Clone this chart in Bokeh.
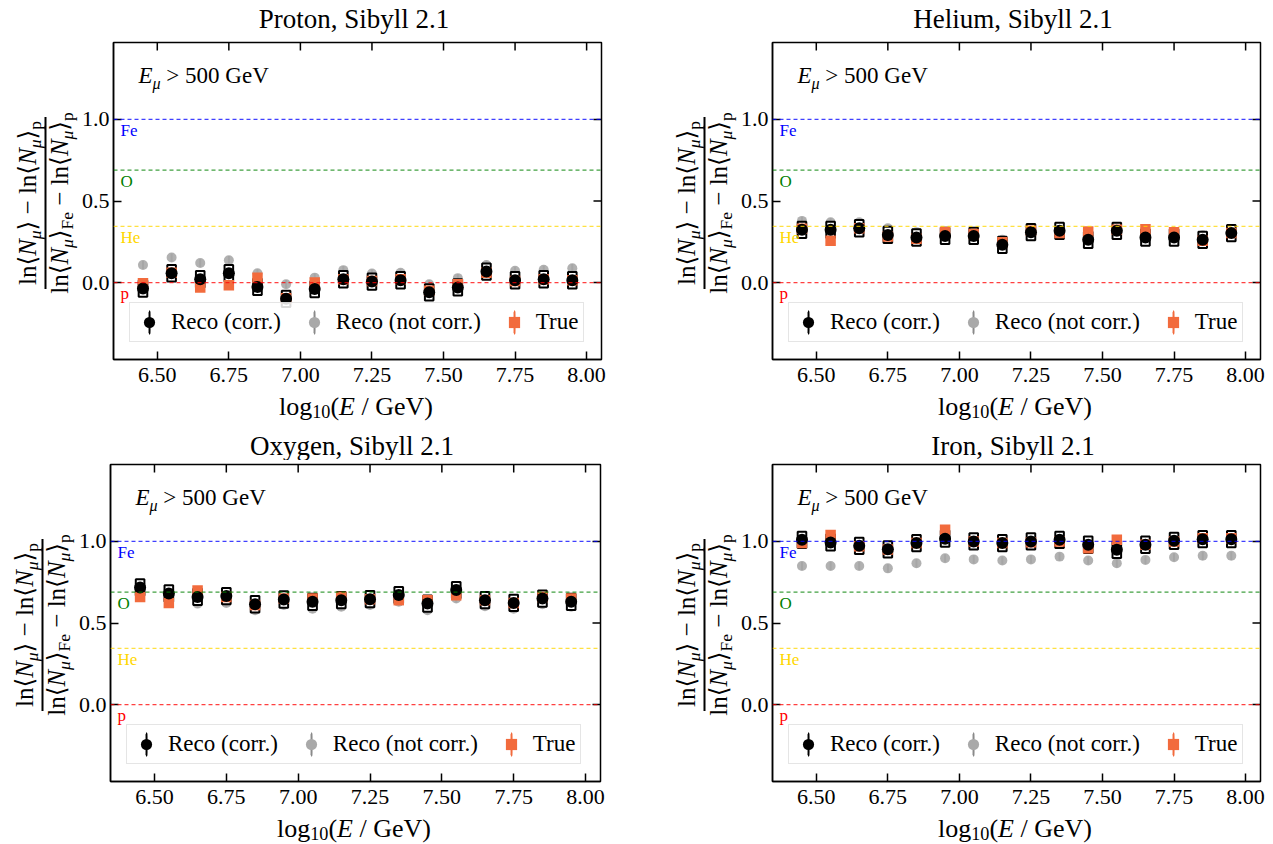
import math
import numpy as np
from bokeh.plotting import figure
from bokeh.layouts import column, row
from bokeh.models import (Range1d, FixedTicker, PrintfTickFormatter, Label, Span,
                          Legend, LegendItem, Arrow, ColumnDataSource)
from bokeh.core.properties import value
from bokeh.embed import file_html
from bokeh.resources import INLINE

# ---------------------------------------------------------------- data
log10_energy = [6.45, 6.55, 6.65, 6.75, 6.85, 6.95, 7.05, 7.15,
                7.25, 7.35, 7.45, 7.55, 7.65, 7.75, 7.85, 7.95]

proton_reco_corr = [-0.037, 0.057, 0.020, 0.057, -0.027, -0.100, -0.040, 0.020,
                    0.006, 0.014, -0.060, -0.030, 0.067, 0.014, 0.020, 0.014]
proton_reco_raw = [0.108, 0.153, 0.120, 0.137, 0.057, -0.010, 0.030, 0.076,
                   0.055, 0.060, -0.010, 0.027, 0.108, 0.072, 0.078, 0.088]
proton_true = [-0.005, 0.060, -0.030, -0.016, 0.029, -0.096, 0.000, 0.020,
               0.010, 0.020, -0.050, -0.010, 0.060, 0.010, 0.020, 0.014]

helium_reco_corr = [0.323, 0.323, 0.333, 0.292, 0.276, 0.286, 0.286, 0.231,
                    0.309, 0.317, 0.262, 0.317, 0.276, 0.276, 0.262, 0.303]
helium_reco_raw = [0.378, 0.370, 0.370, 0.333, 0.309, 0.309, 0.303, 0.262,
                   0.320, 0.328, 0.290, 0.325, 0.303, 0.303, 0.290, 0.323]
helium_true = [0.330, 0.256, 0.333, 0.282, 0.268, 0.310, 0.297, 0.247,
               0.317, 0.303, 0.313, 0.323, 0.327, 0.309, 0.256, 0.303]

oxygen_reco_corr = [0.718, 0.681, 0.660, 0.665, 0.615, 0.644, 0.630, 0.640,
                    0.646, 0.671, 0.619, 0.702, 0.640, 0.623, 0.650, 0.630]
oxygen_reco_raw = [0.665, 0.640, 0.619, 0.623, 0.578, 0.610, 0.588, 0.600,
                   0.610, 0.630, 0.578, 0.650, 0.603, 0.588, 0.615, 0.600]
oxygen_true = [0.660, 0.623, 0.700, 0.660, 0.610, 0.650, 0.650, 0.660,
               0.646, 0.640, 0.640, 0.670, 0.640, 0.623, 0.660, 0.650]

iron_reco_corr = [1.010, 0.994, 0.973, 0.952, 0.990, 1.017, 1.000, 0.990,
                  1.000, 1.010, 0.980, 0.949, 0.980, 1.004, 1.014, 1.014]
iron_reco_raw = [0.850, 0.850, 0.850, 0.835, 0.866, 0.897, 0.890, 0.883,
                 0.890, 0.907, 0.883, 0.866, 0.887, 0.903, 0.912, 0.912]
iron_true = [0.990, 1.040, 0.970, 0.950, 0.990, 1.072, 1.000, 0.990,
             0.995, 1.000, 0.959, 1.010, 0.980, 1.000, 1.020, 1.020]

stat_err = [0.025] * 16      # statistical uncertainty per bin
sys_err = [0.05] * 16        # systematic band (box half-height) per bin

x_ticks = [6.50, 6.75, 7.00, 7.25, 7.50, 7.75, 8.00]
y_ticks = [0.0, 0.5, 1.0]

# reference compositions: ln A / ln 56
mass_numbers = {"p": 1, "He": 4, "O": 16, "Fe": 56}
ref_colors = {"p": "red", "He": "gold", "O": "green", "Fe": "blue"}

# ---------------------------------------------------------------- style
FONT = "Liberation Serif"
ORANGE = "#f26b3d"
GRAY = "#a9a9a9"
GRAY_BAR = "#8a8a8a"
X_MIN, X_MAX = 6.347, 8.052
Y_MIN, Y_MAX = -0.472, 1.472
NB = "\u00a0"
MID = 0.3375       # distance from baseline to the middle of the em box, in em

ROMAN = {"l": 278, "n": 500, "o": 500, "g": 500, "p": 500, "F": 556, "e": 444,
         "G": 722, "V": 722, "(": 333, ")": 333, "/": 278, NB: 250, "\u2212": 564,
         ">": 564, "0": 500, "1": 500, "5": 500}
ITALIC = {"N": 667, "E": 611, "\u03bc": 500}
BRACKET = 390


def piece_width(text, kind, fs):
    scale = 0.7 if kind.startswith("sub") else 1.0
    if kind == "br":
        return BRACKET * fs / 1000 * len(text)
    table = ITALIC if kind.endswith("it") else ROMAN
    return sum(table[c] for c in text) * fs * scale / 1000


def draw_run(p, pieces, fs, x0, y0, rotated=False, centered=True, drop_em=0.22):
    """Typeset roman / italic / subscript pieces; (x0, y0) lies on the baseline."""
    total = sum(piece_width(t, k, fs) for t, k in pieces)
    pos = -total / 2 if centered else 0.0
    for t, k in pieces:
        sub = k.startswith("sub")
        size = fs * 0.7 if sub else fs
        drop = drop_em * fs if sub else 0.0
        w = piece_width(t, k, fs)
        style = "italic" if k.endswith("it") else "normal"
        font = "DejaVu Sans" if k == "br" else FONT
        if rotated:
            x, y, ang, align = x0 + drop - MID * size, y0 + pos + w / 2, math.pi / 2, "center"
        else:
            x, y, ang, align = x0 + pos, y0 - drop + MID * size, 0.0, "left"
        p.add_layout(Label(x=x, y=y, x_units="screen", y_units="screen", text=t, angle=ang,
                           text_font=font, text_font_style=style,
                           text_font_size=f"{size:.1f}px", text_align=align,
                           text_baseline="middle", text_color="black"))
        pos += w


MINUS = NB + "\u2212" + NB
NUMERATOR = [("ln", "rm"), ("\u27e8", "br"), ("N", "it"), ("\u03bc", "subit"), ("\u27e9", "br"),
             (MINUS, "rm"), ("ln", "rm"), ("\u27e8", "br"), ("N", "it"), ("\u03bc", "subit"),
             ("\u27e9", "br"), ("p", "subrm")]
DENOMINATOR = [("ln", "rm"), ("\u27e8", "br"), ("N", "it"), ("\u03bc", "subit"), ("\u27e9", "br"),
               ("Fe", "subrm"), (MINUS, "rm"), ("ln", "rm"), ("\u27e8", "br"), ("N", "it"),
               ("\u03bc", "subit"), ("\u27e9", "br"), ("p", "subrm")]
XLABEL = [("log", "rm"), ("10", "subrm"), ("(", "rm"), ("E", "it"),
          (NB + "/" + NB + "GeV)", "rm")]
CUT = [("E", "it"), ("\u03bc", "subit"), (NB + ">" + NB + "500" + NB + "GeV", "rm")]

# panel geometry (pixels)
FH = 317           # frame height
LEFT = 32          # room for y tick labels
TOP = 4
BOTTOM = 32        # room for x tick labels


def blank(width, height):
    f = figure(width=width, height=height, x_range=Range1d(0, 1), y_range=Range1d(0, 1),
               output_backend="svg", toolbar_location=None, title=None,
               x_axis_type=None, y_axis_type=None, min_border=0)
    f.outline_line_color = None
    return f


def main_axes(corr, raw, true, width, fw):
    right = width - LEFT - fw
    p = figure(width=width, height=TOP + FH + BOTTOM, x_range=Range1d(X_MIN, X_MAX),
               y_range=Range1d(Y_MIN, Y_MAX), output_backend="svg", toolbar_location=None,
               title=None, min_border_left=LEFT, min_border_right=right,
               min_border_top=TOP, min_border_bottom=BOTTOM)
    p.grid.visible = False
    p.outline_line_color = "black"
    p.outline_line_width = 1.5

    for ax, ticks, fmt in ((p.xaxis[0], x_ticks, "%.2f"), (p.yaxis[0], y_ticks, "%.1f")):
        ax.ticker = FixedTicker(ticks=ticks)
        ax.formatter = PrintfTickFormatter(format=fmt)
        ax.major_tick_in = 8
        ax.major_tick_out = 0
        ax.minor_tick_in = 0
        ax.minor_tick_out = 0
        ax.major_tick_line_width = 1.5
        ax.axis_line_width = 1.5
        ax.major_label_text_font = FONT
        ax.major_label_text_font_size = "22px"
        ax.major_label_text_color = "black"
    p.xaxis[0].major_label_standoff = 8
    p.yaxis[0].major_label_standoff = 4

    # inward ticks along the top and right edges (half of each dash is clipped away)
    p.scatter(x=x_ticks, y=[Y_MAX] * len(x_ticks), marker="dash", angle=math.pi / 2, size=16,
              line_color="black", line_width=1.5)
    p.scatter(x=[X_MAX] * len(y_ticks), y=y_ticks, marker="dash", size=16,
              line_color="black", line_width=1.5)

    # reference composition lines
    for name, a in mass_numbers.items():
        level = math.log(a) / math.log(56)
        p.add_layout(Span(location=level, dimension="width", line_color=ref_colors[name],
                          line_alpha=0.75, line_dash="4 3", line_width=1.2))
        p.add_layout(Label(x=7, y=level, x_units="screen", y_units="data", y_offset=-11,
                           text=name, text_color=ref_colors[name], text_font=FONT,
                           text_font_size="17px", text_baseline="middle", text_align="left"))

    x = np.array(log10_energy)
    e = np.array(stat_err)
    s = np.array(sys_err)
    c, r, t = np.array(corr), np.array(raw), np.array(true)
    src = ColumnDataSource(dict(x=x, corr=c, raw=r, true=t,
                                corr_lo=c - e, corr_hi=c + e, raw_lo=r - e, raw_hi=r + e,
                                true_lo=t - e, true_hi=t + e, box_h=2 * s))

    # uncorrected reconstruction
    p.segment(x0="x", y0="raw_lo", x1="x", y1="raw_hi", source=src, line_color=GRAY_BAR, line_width=2)
    p.scatter(x="x", y="raw", source=src, marker="circle", size=10, fill_color=GRAY,
              line_color=None, fill_alpha=0.9)
    # systematic boxes around corrected reconstruction
    p.rect(x="x", y="corr", width=0.03, height="box_h", source=src, fill_color="white",
           line_color="black", line_width=2)
    # true values
    p.segment(x0="x", y0="true_lo", x1="x", y1="true_hi", source=src, line_color=ORANGE, line_width=2)
    p.scatter(x="x", y="true", source=src, marker="square", size=10.5, fill_color=ORANGE,
              line_color=None)
    # corrected reconstruction
    p.segment(x0="x", y0="corr_lo", x1="x", y1="corr_hi", source=src, line_color="black", line_width=2)
    p.scatter(x="x", y="corr", source=src, marker="circle", size=12, fill_color="black",
              line_color=None)

    # legend glyphs: marker plus vertical error bar
    items = []
    for label, col, marker, size in (("Reco (corr.)", "black", "circle", 11),
                                     ("Reco (not corr.)", GRAY, "circle", 10),
                                     ("True", ORANGE, "square", 10.5)):
        bar_col = GRAY_BAR if col == GRAY else col
        bar = p.ellipse(x=[X_MIN - 5], y=[0.5], width=0.1, height=20, width_units="screen",
                        height_units="screen", fill_color=bar_col, line_color=bar_col,
                        line_width=2)
        dot = p.scatter(x=[X_MIN - 5], y=[0.5], marker=marker, size=size, fill_color=col,
                        line_color=None)
        items.append(LegendItem(label=value(label), renderers=[bar, dot]))
    legend = Legend(items=items, location=(16, 17), orientation="horizontal",
                    glyph_width=28, glyph_height=28, label_standoff=8, spacing=19, padding=5,
                    margin=0, border_line_color="#cccccc", border_line_width=1.5,
                    background_fill_color="white", background_fill_alpha=0.85,
                    label_text_font=FONT, label_text_font_size="23px",
                    label_text_color="black")
    p.add_layout(legend)

    # energy threshold note, baseline 41 px below the frame top
    draw_run(p, CUT, 23, 25, FH - 41, centered=False)
    return p


def panel(title, corr, raw, true, width, ylab_w, fw, title_h, title_y, xlab_h, xlab_y):
    main = main_axes(corr, raw, true, width - ylab_w, fw)
    cx = ylab_w + LEFT + fw / 2

    head = blank(width, title_h)
    head.add_layout(Label(x=cx - 2, y=title_y, x_units="screen", y_units="screen", text=title,
                          text_font=FONT, text_font_size="27px", text_align="center",
                          text_baseline="middle", text_color="black"))

    # the row lines this strip's frame up with the axes frame next to it
    ylab = blank(ylab_w, TOP + FH + BOTTOM)
    fx = ylab_w + LEFT            # axes frame left edge in this strip's coordinates
    cy = FH / 2 - 2
    draw_run(ylab, NUMERATOR, 25, fx - 75, cy, rotated=True)
    draw_run(ylab, DENOMINATOR, 25, fx - 43, cy, rotated=True)
    ylab.add_layout(Arrow(x_start=fx - 65, y_start=cy - 86, x_end=fx - 65, y_end=cy + 86,
                          start_units="screen", end_units="screen", start=None, end=None,
                          line_color="black", line_width=2))

    foot = blank(width, xlab_h)
    draw_run(foot, XLABEL, 26, cx, xlab_y, drop_em=0.1)

    return column(head, row(ylab, main), foot)


top_left = panel("Proton, Sibyll 2.1", proton_reco_corr, proton_reco_raw, proton_true,
                 640, 78, 491, 38, 20, 35, 11)
top_right = panel("Helium, Sibyll 2.1", helium_reco_corr, helium_reco_raw, helium_true,
                  633, 97, 491, 38, 20, 35, 11)
bottom_left = panel("Oxygen, Sibyll 2.1", oxygen_reco_corr, oxygen_reco_raw, oxygen_true,
                    640, 75, 493, 34, 15, 31, 7)
bottom_right = panel("Iron, Sibyll 2.1", iron_reco_corr, iron_reco_raw, iron_true,
                     633, 97, 491, 34, 15, 31, 7)

layout = column(row(top_left, top_right), row(bottom_left, bottom_right))
open("out.html", "w").write(file_html(layout, INLINE))
